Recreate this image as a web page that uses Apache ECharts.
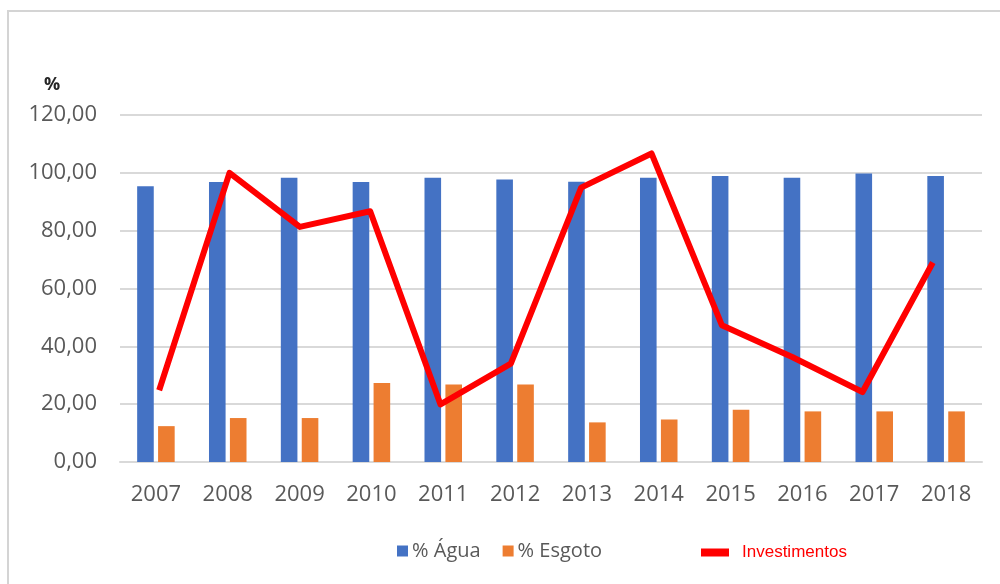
<!DOCTYPE html>
<html>
<head>
<meta charset="utf-8">
<script src="https://cdn.jsdelivr.net/npm/echarts@6/dist/echarts.min.js"></script>
<style>
  html, body { margin: 0; padding: 0; background: #fff; }
  #chart { width: 1000px; height: 584px; }
</style>
</head>
<body>
<div id="chart"></div>
<script>
// Coverage of water and sewage services (%) and investments, 2007–2018
const years = ['2007', '2008', '2009', '2010', '2011', '2012', '2013', '2014', '2015', '2016', '2017', '2018'];
const agua = [95.4, 96.8, 98.3, 96.8, 98.3, 97.7, 96.9, 98.3, 98.9, 98.3, 99.8, 98.9];
const esgoto = [12.4, 15.2, 15.2, 27.3, 26.8, 26.8, 13.7, 14.7, 18.1, 17.5, 17.5, 17.5];
const investimentos = [24.8, 100.0, 81.3, 86.7, 19.9, 34.0, 94.9, 106.7, 47.3, 36.3, 24.2, 69.0];
const yTicks = { min: 0, max: 120, interval: 20 };

const chart = echarts.init(document.getElementById('chart'), null, { renderer: 'canvas' });

const labelFont = '"Open Sans", "Noto Sans", sans-serif';

chart.setOption({
  backgroundColor: '#ffffff',
  animation: false,
  graphic: [
    {
      type: 'rect',
      shape: { x: 8, y: 11, width: 1100, height: 700 },
      style: { fill: 'none', stroke: '#d4d4d4', lineWidth: 2 },
      silent: true
    },
    {
      type: 'text',
      left: 44, top: 76,
      style: { text: '%', fontSize: 18, fontWeight: 'bold', fill: '#262626', fontFamily: labelFont }
    }
  ],
  legend: [
    {
      data: ['% Água', '% Esgoto'],
      left: 392, top: 536,
      itemWidth: 11, itemHeight: 11, itemGap: 22,
      icon: 'rect',
      textStyle: { fontSize: 20, color: '#595959', fontFamily: labelFont, padding: [0, 0, 0, -1] }
    },
    {
      data: ['Investimentos'],
      left: 696, top: 539,
      itemWidth: 28, itemHeight: 8,
      icon: 'rect',
      textStyle: { fontSize: 17, color: '#ff0000', fontFamily: '"Liberation Sans", Arial, sans-serif', padding: [0, 0, 0, 8] }
    }
  ],
  grid: [
    { left: 120, right: 18, top: 115, bottom: 122 },
    { left: 124, right: 32, top: 115, bottom: 122 }
  ],
  xAxis: [
    {
      type: 'category', gridIndex: 0, data: years,
      axisLine: { lineStyle: { color: '#d9d9d9', width: 2 } },
      axisTick: { show: false },
      axisLabel: { fontSize: 22, color: '#595959', fontFamily: labelFont, margin: 22 }
    },
    {
      type: 'category', gridIndex: 1, data: years, show: false
    }
  ],
  yAxis: [
    {
      type: 'value', gridIndex: 0,
      min: yTicks.min, max: yTicks.max, interval: yTicks.interval,
      axisLine: { show: false },
      axisTick: { show: false },
      splitLine: { lineStyle: { color: '#d9d9d9', width: 2 } },
      axisLabel: {
        fontSize: 22, color: '#595959', fontFamily: labelFont, margin: 23,
        formatter: v => v.toFixed(2).replace('.', ',')
      }
    },
    {
      type: 'value', gridIndex: 1,
      min: yTicks.min, max: yTicks.max, interval: yTicks.interval, show: false
    }
  ],
  series: [
    {
      name: '% Água', type: 'bar', xAxisIndex: 0, yAxisIndex: 0,
      data: agua, barWidth: 16.6, barGap: '26%',
      itemStyle: { color: '#4472c4' }
    },
    {
      name: '% Esgoto', type: 'bar', xAxisIndex: 0, yAxisIndex: 0,
      data: esgoto, barWidth: 16.6, barGap: '26%',
      itemStyle: { color: '#ed7d31' }
    },
    {
      name: 'Investimentos', type: 'line', xAxisIndex: 1, yAxisIndex: 1,
      data: investimentos, showSymbol: false, symbol: 'none',
      lineStyle: { color: '#ff0000', width: 6, join: 'round' },
      itemStyle: { color: '#ff0000' },
      z: 5
    }
  ]
});
</script>
</body>
</html>
